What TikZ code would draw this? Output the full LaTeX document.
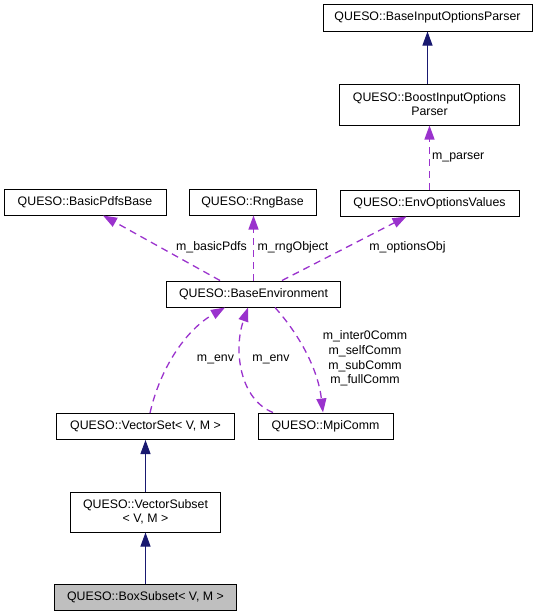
\documentclass[tikz,border=0pt]{standalone}
\usepackage{fontspec}
\setmainfont{Liberation Sans}
\usetikzlibrary{arrows.meta}
\definecolor{navy}{HTML}{191970}
\definecolor{purp}{HTML}{9A32CD}
\definecolor{hl}{HTML}{BFBFBF}
\tikzset{
  cls/.style={draw=black, line width=1pt, fill=white, inner sep=0pt, align=center,
    font=\fontsize{12.35}{14}\selectfont},
  inh/.style={draw=navy, line width=1pt, -{Triangle[length=14pt,width=10pt]}},
  use/.style={draw=purp, line width=1.3pt, dash pattern=on 7pt off 5pt,
    -{Triangle[length=14pt,width=10pt]}},
  lbl/.style={inner sep=0pt, font=\fontsize{12.35}{14.7}\selectfont, align=center}
}
\begin{document}
\begin{tikzpicture}[x=1pt,y=-1pt]
\useasboundingbox (0,0) rectangle (541,616);
% nodes
\node[cls, minimum width=209pt, minimum height=27pt] (bip) at (427.5,17.5) {QUESO::BaseInputOptionsParser};
\node[cls, minimum width=180pt, minimum height=41pt] (boost) at (429.5,104.5) {QUESO::BoostInputOptions\\Parser};
\node[cls, minimum width=179pt, minimum height=26pt] (env) at (429.5,203) {QUESO::EnvOptionsValues};
\node[cls, minimum width=162pt, minimum height=26pt] (bpb) at (85,202) {QUESO::BasicPdfsBase};
\node[cls, minimum width=127pt, minimum height=26pt] (rng) at (252.5,202) {QUESO::RngBase};
\node[cls, minimum width=174pt, minimum height=26pt] (be) at (253.5,294) {QUESO::BaseEnvironment};
\node[cls, minimum width=178pt, minimum height=26pt] (vs) at (145.5,426.5) {QUESO::VectorSet< V, M >};
\node[cls, minimum width=135pt, minimum height=26pt] (mpi) at (325.5,426) {QUESO::MpiComm};
\node[cls, minimum width=150pt, minimum height=40pt] (vsub) at (145.5,512) {QUESO::VectorSubset\\< V, M >};
\node[cls, fill=hl, minimum width=182pt, minimum height=26pt] (box) at (145.5,597) {QUESO::BoxSubset< V, M >};
% inheritance
\draw[inh] (boost.north -| bip.south) -- (bip.south);
\draw[inh] (vsub.north) -- (vs.south);
\draw[inh] (box.north) -- (vsub.south);
% usage
\draw[use] (env.north) -- (env.north |- boost.south);
\node[lbl, anchor=west] (lparser) at (432,157) {m\_parser};
\draw[use] ([xshift=-33.5pt]be.north) -- ([xshift=18pt]bpb.south);
\node[lbl] (lpdfs) at (211.5,247) {m\_basicPdfs};
\draw[use] (be.north) -- (be.north |- rng.south);
\node[lbl] (lrng) at (293,247) {m\_rngObject};
\draw[use] ([xshift=28.5pt]be.north) -- ([xshift=-23pt]env.south);
\node[lbl] (lopt) at (407.5,247) {m\_optionsObj};
\draw[use] ([xshift=4.5pt]vs.north) .. controls +(10,-44) and +(-40,23) .. ([xshift=-28.5pt]be.south);
\node[lbl] (lenv1) at (215.5,359) {m\_env};
\draw[use] ([xshift=-52.5pt]mpi.north) .. controls +(-33,-13) and +(-15,43) .. ([xshift=-5.5pt]be.south);
\node[lbl] (lenv2) at (271,359) {m\_env};
\draw[use] ([xshift=21.5pt]be.south) .. controls +(25,28) and +(-5,-43) .. ([xshift=-2.5pt]mpi.north);
\node[lbl] (lcomm) at (365,358.5) {m\_inter0Comm\\m\_selfComm\\m\_subComm\\m\_fullComm};
\end{tikzpicture}
\end{document}
